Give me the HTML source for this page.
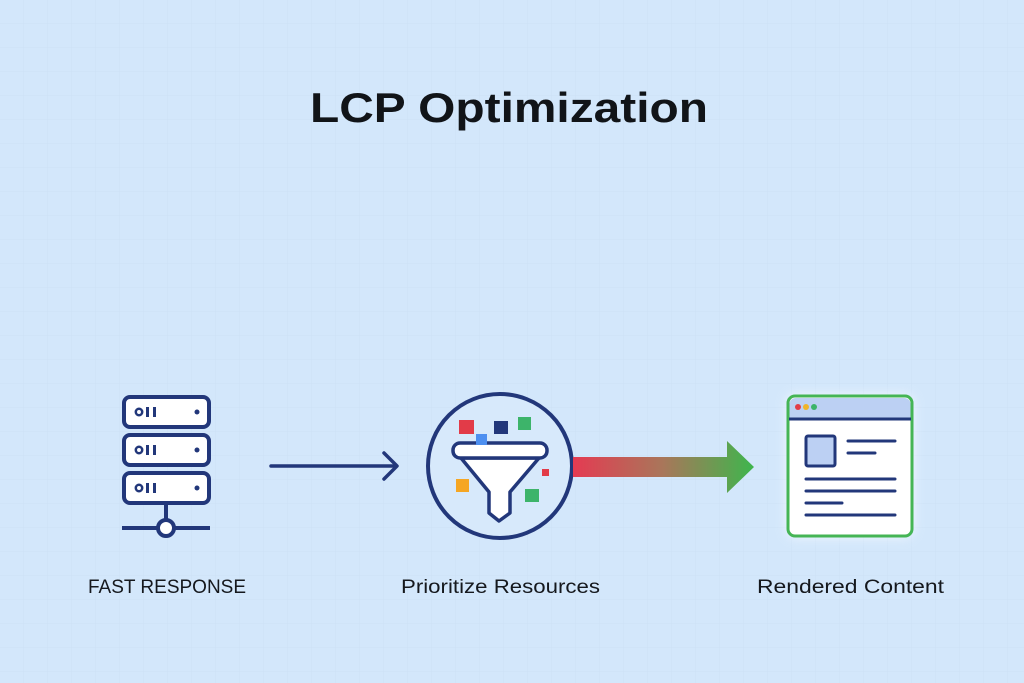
<!DOCTYPE html>
<html><head><meta charset="utf-8"><style>
html,body{margin:0;padding:0;width:1024px;height:683px;overflow:hidden;background:#d3e7fb}
</style></head><body>
<svg width="1024" height="683" viewBox="0 0 1024 683" xmlns="http://www.w3.org/2000/svg">
<defs>
<pattern id="g" width="24" height="24" patternUnits="userSpaceOnUse">
<path d="M24 0V24M0 24H24" stroke="#cce1f6" stroke-width="1" fill="none"/>
</pattern>
<linearGradient id="ar" x1="572" y1="0" x2="753" y2="0" gradientUnits="userSpaceOnUse">
<stop offset="0" stop-color="#e53a52"/><stop offset="0.5" stop-color="#a9765a"/><stop offset="1" stop-color="#3fb54d"/>
</linearGradient>
<filter id="glow" x="-30%" y="-30%" width="160%" height="160%"><feGaussianBlur stdDeviation="6"/></filter>
</defs>
<rect width="1024" height="683" fill="#d3e7fb"/>
<rect width="1024" height="683" fill="url(#g)"/>
<text x="509" y="122" text-anchor="middle" font-family="Liberation Sans, sans-serif" font-weight="bold" font-size="42" fill="#111418" textLength="398" lengthAdjust="spacingAndGlyphs">LCP Optimization</text>

<!-- server -->
<g stroke="#22377a" stroke-width="4" fill="#fff">
<rect x="124" y="397" width="85" height="30" rx="6"/>
<rect x="124" y="435" width="85" height="30" rx="6"/>
<rect x="124" y="473" width="85" height="30" rx="6"/>
<line x1="166" y1="503" x2="166" y2="519"/>
<line x1="122" y1="528" x2="210" y2="528"/>
<circle cx="166" cy="528" r="8"/>
</g>
<g fill="#22377a">
<g id="r1"><circle cx="139" cy="412" r="3.2" fill="none" stroke="#22377a" stroke-width="2.5"/><rect x="146" y="407" width="3" height="10"/><rect x="153" y="407" width="3" height="10"/><circle cx="197" cy="412" r="2.5"/></g>
<use href="#r1" y="38"/><use href="#r1" y="76"/>
</g>
<!-- left arrow -->
<g stroke="#22377a" stroke-width="3.5" fill="none" stroke-linecap="round" stroke-linejoin="round">
<line x1="271" y1="466" x2="396" y2="466"/>
<polyline points="384,453 397,466 384,479"/>
</g>

<!-- funnel -->
<circle cx="500" cy="466" r="72" fill="#d7e9fb" stroke="#22377a" stroke-width="4"/>
<rect x="459" y="420" width="15" height="14" fill="#e23b48"/>
<rect x="494" y="421" width="14" height="13" fill="#22377a"/>
<rect x="518" y="417" width="13" height="13" fill="#3db46a"/>
<rect x="542" y="469" width="7" height="7" fill="#e23b48"/>
<rect x="456" y="479" width="13" height="13" fill="#f5a623"/>
<rect x="525" y="489" width="14" height="13" fill="#3db46a"/>
<g stroke="#22377a" stroke-width="3.5" fill="#fff" stroke-linejoin="round">
<path d="M461 458 L539 458 L510 492 L510 513 L499 521 L489 513 L489 492 Z"/>
<rect x="453" y="443" width="94" height="15" rx="7"/>
</g>
<rect x="476" y="434" width="11" height="11" fill="#4d8ff0"/>

<!-- gradient arrow -->
<path d="M573 457 H727 V441 L754 467 L727 493 V477 H573 Z" fill="url(#ar)"/>

<!-- browser -->
<rect x="787" y="395" width="126" height="142" rx="8" fill="#ffffff" filter="url(#glow)" opacity="0.7"/>
<rect x="788" y="396" width="124" height="140" rx="7" fill="#fff" stroke="#45b555" stroke-width="3"/>
<path d="M789.5 418 V404 a6 6 0 0 1 6-6 H904.5 a6 6 0 0 1 6 6 V418 Z" fill="#bcd0f3"/>
<line x1="789" y1="419" x2="911" y2="419" stroke="#22377a" stroke-width="3"/>
<circle cx="798" cy="407" r="3" fill="#e23b48"/><circle cx="806" cy="407" r="3" fill="#f0b429"/><circle cx="814" cy="407" r="3" fill="#3db46a"/>
<rect x="806" y="436" width="29" height="30" rx="2" fill="#bcd0f3" stroke="#22377a" stroke-width="3"/>
<g stroke="#22377a" stroke-width="3" stroke-linecap="round">
<line x1="848" y1="441" x2="895" y2="441"/>
<line x1="848" y1="453" x2="875" y2="453"/>
<line x1="806" y1="479" x2="895" y2="479"/>
<line x1="806" y1="491" x2="895" y2="491"/>
<line x1="806" y1="503" x2="842" y2="503"/>
<line x1="806" y1="515" x2="895" y2="515"/>
</g>

<g font-family="Liberation Sans, sans-serif" font-size="19" fill="#15181d">
<text x="88" y="593" textLength="158" lengthAdjust="spacingAndGlyphs">FAST RESPONSE</text>
<text x="401" y="593" textLength="199" lengthAdjust="spacingAndGlyphs">Prioritize Resources</text>
<text x="757" y="593" textLength="187" lengthAdjust="spacingAndGlyphs">Rendered Content</text>
</g>
</svg>
</body></html>
